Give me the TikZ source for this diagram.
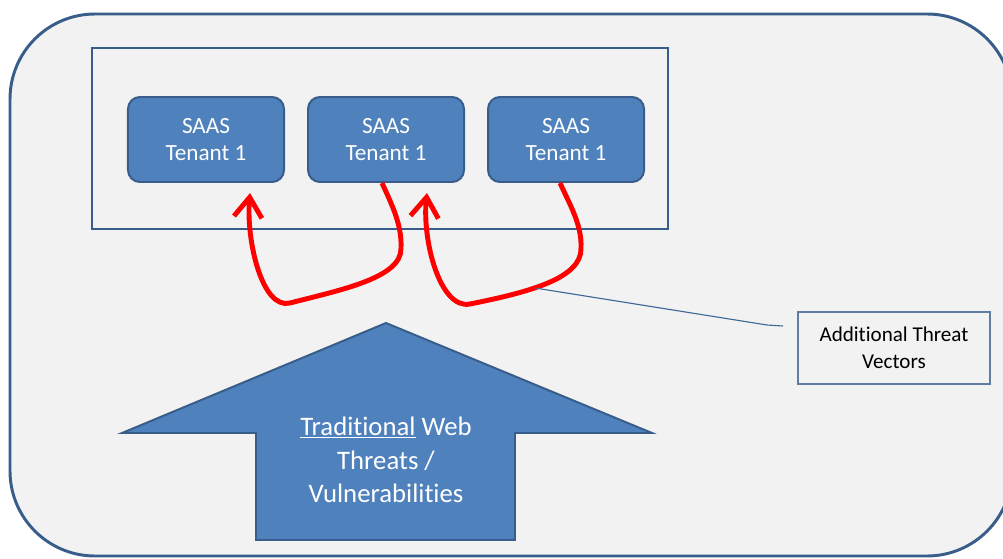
\documentclass[tikz,border=0pt]{standalone}
\usepackage{fontspec}
\setmainfont{Carlito}[Ligatures={TeX,NoCommon}]
\usetikzlibrary{positioning,arrows.meta}
\definecolor{officeblue}{HTML}{4F81BD}
\definecolor{officeedge}{HTML}{385D8A}
\definecolor{canvasgray}{HTML}{F2F2F2}

\begin{document}
\begin{tikzpicture}[
    x=0.025cm, y=-0.025cm,               % one unit = one pixel, y downwards
    node distance=0.55cm,
    tenant/.style={
        draw=officeedge,
        fill=officeblue,
        line width=1.4pt,
        rounded corners=0.3cm,
        minimum width=3.9cm,
        minimum height=2.125cm,
        text=white,
        align=center,
        font=\fontsize{16.5}{19.8}\selectfont
    },
    threat/.style={red, line width=3.5pt,
        -{Straight Barb[length=0.5cm,width=0.7cm]}},
    callout/.style={draw=officeedge!80, line width=1pt,
        minimum width=4.8cm, minimum height=1.8cm,
        align=center, font=\fontsize{15}{18.9}\selectfont}
]
\useasboundingbox (0,0) rectangle (1003,558);

% background panel
\draw[officeedge, fill=canvasgray, line width=2.1pt, rounded corners=2.125cm]
    (10,14) rectangle (1012,556);

% tenants
\node[draw=officeedge, line width=1.8pt, minimum width=14.4cm,
    minimum height=4.525cm] (tenancy) at (380,138.5) {};
\node[tenant] (saas1) at (206,139.5) {SAAS\\Tenant 1};
\node[tenant, right=of saas1] (saas2) {SAAS\\Tenant 1};
\node[tenant, right=of saas2] (saas3) {SAAS\\Tenant 1};

% cross-tenant threats
\draw[threat] ([xshift=-0.1cm]saas2.south)
    .. controls (392,205) and (402,225) .. (401,248)
    .. controls (402,278) and (340,290) .. (290,303)
    .. controls (262,310) and (246,240) .. ([xshift=1.1cm,yshift=-0.25cm]saas1.south);
\draw[threat] ([xshift=-0.15cm]saas3.south)
    .. controls (570,205) and (582,225) .. (581,248)
    .. controls (582,278) and (530,292) .. (470,304)
    .. controls (440,310) and (422,240) .. ([xshift=1.025cm,yshift=-0.25cm]saas2.south);

% callout
\node[callout] (vectors) at (894,348) {Additional Threat\\Vectors};
\coordinate (vec) at (535,288);
\coordinate (elbow) at (767,325);
\coordinate (leadend) at (783,326);
\draw[officeblue!80!black, line width=0.8pt] (vec) -- (elbow) -- (leadend);

% big arrow
\draw[fill=officeblue, draw=officeedge, line width=1.4pt]
    (386,323) -- (652,433) -- (515,433) -- (515,540) -- (256,540)
    -- (256,433) -- (122,433) -- cycle;
\node[text=white, align=center, font=\fontsize{19}{24}\selectfont] (legacy)
    at (386,460) {\underline{Traditional} Web\\Threats /\\Vulnerabilities};

\end{tikzpicture}
\end{document}
